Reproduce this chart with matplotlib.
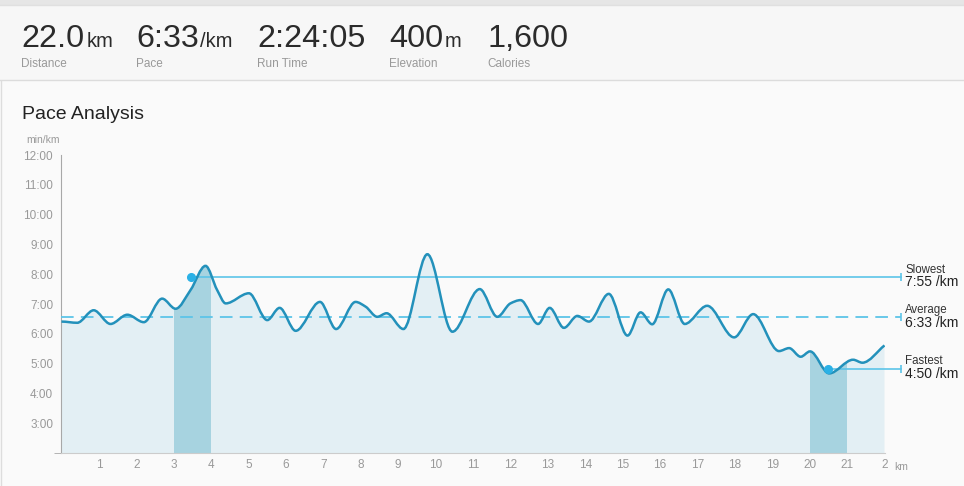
import numpy as np
import matplotlib.pyplot as plt
from matplotlib.path import Path
from matplotlib.patches import PathPatch, Rectangle
from matplotlib.lines import Line2D

plt.rcParams['font.family'] = ['Liberation Sans', 'DejaVu Sans']

# summary row at the top
stat_values = ['22.0', '6:33', '2:24:05', '400', '1,600']
stat_units = ['km', '/km', '', 'm', '']
stat_names = ['Distance', 'Pace', 'Run Time', 'Elevation', 'Calories']

# pace along the run (km, minutes per km)
km = [0.0, 0.42, 0.86, 1.31, 1.76, 2.20, 2.69, 3.05, 3.45, 3.85,
      4.16, 4.39, 5.01, 5.50, 5.83, 6.26, 6.91, 7.34, 7.86, 8.13,
      8.44, 8.69, 9.14, 9.78, 10.45, 11.18, 11.65, 12.0, 12.27, 12.74,
      13.05, 13.43, 13.79, 14.10, 14.63, 15.13, 15.48, 15.79, 16.22, 16.66,
      17.26, 17.98, 18.49, 19.18, 19.45, 19.76, 20.01, 20.52, 21.16, 21.41,
      22.0]
pace = [6.41, 6.37, 6.79, 6.33, 6.64, 6.39, 7.18, 6.84, 7.47, 8.28,
        7.47, 7.02, 7.36, 6.46, 6.87, 6.10, 7.07, 6.16, 7.07, 6.91,
        6.57, 6.69, 6.16, 8.67, 6.07, 7.50, 6.57, 7.02, 7.13, 6.33,
        6.87, 6.20, 6.60, 6.41, 7.34, 5.94, 6.72, 6.32, 7.49, 6.33,
        6.94, 5.88, 6.66, 5.42, 5.52, 5.23, 5.41, 4.67, 5.13, 5.03,
        5.61]

avg_pace = 6 + 33 / 60
slow_km, slow_pace = 3.45, 7 + 55 / 60
fast_km, fast_pace = 20.5, 4 + 50 / 60
slow_band = (3, 4)
fast_band = (20, 21)

x_ticks = list(range(1, 23))
x_labels = [str(i) for i in range(1, 22)] + ['2']
y_ticks = list(range(3, 13))
y_labels = ['%d:00' % v for v in y_ticks]

W, H = 964, 486
line_col = '#2391bb'
fill_col = '#e3eff4'
band_col = '#a7d3e0'
ref_col = '#5cc4e8'
dot_col = '#2bb1e6'


def fx(px):
    return px / W


def fy(py):
    return 1 - py / H


fig = plt.figure(figsize=(W / 100, H / 100), dpi=100, facecolor='#fafafa')

# header box
fig.add_artist(Rectangle((0, fy(5)), 1, 5 / H, transform=fig.transFigure, color='#e6e6e6', lw=0))
fig.add_artist(Rectangle((0, fy(80)), 1, 75 / H, transform=fig.transFigure, color='#f7f7f7', lw=0))
fig.add_artist(Line2D([0, 1], [fy(80.5), fy(80.5)], transform=fig.transFigure, color='#dcdcdc', lw=1))
fig.add_artist(Line2D([0, 1], [fy(5.5), fy(5.5)], transform=fig.transFigure, color='#e0e0e0', lw=1))
fig.add_artist(Line2D([fx(0.5), fx(0.5)], [0, fy(81)], transform=fig.transFigure, color='#dddddd', lw=1))

num_x = [21, 136, 257, 389, 487]
unit_x = [87, 200, 0, 445, 0]
for i in range(len(stat_values)):
    fig.text(fx(num_x[i]), fy(46.7), stat_values[i], fontsize=23.3, color='#2b2b2b', va='baseline')
    if stat_units[i]:
        fig.text(fx(unit_x[i]), fy(46.7), stat_units[i], fontsize=14.5, color='#2b2b2b', va='baseline')
    fig.text(fx(num_x[i]), fy(66.7), stat_names[i], fontsize=8.5, color='#999999', va='baseline')

fig.text(fx(21.5), fy(119), 'Pace Analysis', fontsize=14, color='#222222', va='baseline')
fig.text(fx(26.5), fy(143.3), 'min/km', fontsize=7.5, color='#999999', va='baseline')

ax = fig.add_axes([fx(61.5), 1 - 453 / H, 823 / W, 298 / H])
ax.set_facecolor('none')
ax.set_xlim(0, 22)
ax.set_ylim(2, 12)

# smooth curve through the read points (monotone cubic drawn as bezier path)
x = np.array(km)
y = np.array(pace)
h = np.diff(x)
d = np.diff(y) / h
m = np.zeros_like(y)
for i in range(1, len(y) - 1):
    if d[i - 1] * d[i] > 0:
        w1 = 2 * h[i] + h[i - 1]
        w2 = h[i] + 2 * h[i - 1]
        m[i] = (w1 + w2) / (w1 / d[i - 1] + w2 / d[i])
m[0] = 0
m[-1] = d[-1]

line_verts = [(x[0], y[0])]
line_codes = [Path.MOVETO]
for i in range(len(x) - 1):
    line_verts += [(x[i] + h[i] / 3, y[i] + m[i] * h[i] / 3),
                   (x[i + 1] - h[i] / 3, y[i + 1] - m[i + 1] * h[i] / 3),
                   (x[i + 1], y[i + 1])]
    line_codes += [Path.CURVE4] * 3

area_verts = [(x[0], 2)] + line_verts + [(x[-1], 2), (x[0], 2)]
area_codes = [Path.MOVETO, Path.LINETO] + line_codes[1:] + [Path.LINETO, Path.CLOSEPOLY]
area = Path(area_verts, area_codes)

ax.add_patch(PathPatch(area, facecolor=fill_col, edgecolor='none', zorder=1))
for a, b in [slow_band, fast_band]:
    band = PathPatch(area, facecolor=band_col, edgecolor='none', zorder=2)
    ax.add_patch(band)
    band.set_clip_path(Rectangle((a, 2), b - a, 10, transform=ax.transData))

x_end = 22.43
ax.plot([0, x_end], [avg_pace, avg_pace], color=ref_col, lw=1.3, dashes=(7, 4), zorder=3, clip_on=False)
ax.plot([slow_km, x_end], [slow_pace, slow_pace], color=ref_col, lw=1.2, zorder=3, clip_on=False)
ax.plot([fast_km, x_end], [fast_pace, fast_pace], color=ref_col, lw=1.2, zorder=3, clip_on=False)
ax.plot([x_end] * 3, [slow_pace, avg_pace, fast_pace], ls='none', marker='|', ms=6, mew=1.2,
        color=ref_col, clip_on=False, zorder=3)

ax.add_patch(PathPatch(Path(line_verts, line_codes), facecolor='none', edgecolor=line_col, lw=1.8, zorder=4))
ax.plot([slow_km, fast_km], [slow_pace, fast_pace], ls='none', marker='o', ms=5.5, color=dot_col, zorder=5)

labels = [('Slowest', '7:55 /km', slow_pace), ('Average', '6:33 /km', avg_pace), ('Fastest', '4:50 /km', fast_pace)]
for name, val, yy in labels:
    ax.annotate(name, (22.56, yy), xytext=(0, 3), textcoords='offset points', fontsize=8.3,
                color='#333333', va='baseline', annotation_clip=False)
    ax.annotate(val, (22.56, yy), xytext=(0, -7), textcoords='offset points', fontsize=10,
                color='#222222', va='baseline', annotation_clip=False)

ax.text(22.27, 1.54, 'km', fontsize=7.5, color='#999999', va='center', clip_on=False)

for s in ['top', 'right']:
    ax.spines[s].set_visible(False)
ax.spines['left'].set_color('#a8a8a8')
ax.spines['bottom'].set_color('#cccccc')

ax.set_xticks(x_ticks)
ax.set_xticklabels(x_labels)
ax.set_yticks(y_ticks)
ax.set_yticklabels(y_labels)
ax.set_yticks([2, 12], minor=True)
ax.tick_params(axis='both', which='major', length=0, labelsize=8.5, labelcolor='#999999')
ax.tick_params(axis='x', pad=4.5)
ax.tick_params(axis='y', pad=6)
ax.tick_params(axis='y', which='minor', length=5, color='#a8a8a8')

plt.savefig('out.png', dpi=100, facecolor=fig.get_facecolor())
